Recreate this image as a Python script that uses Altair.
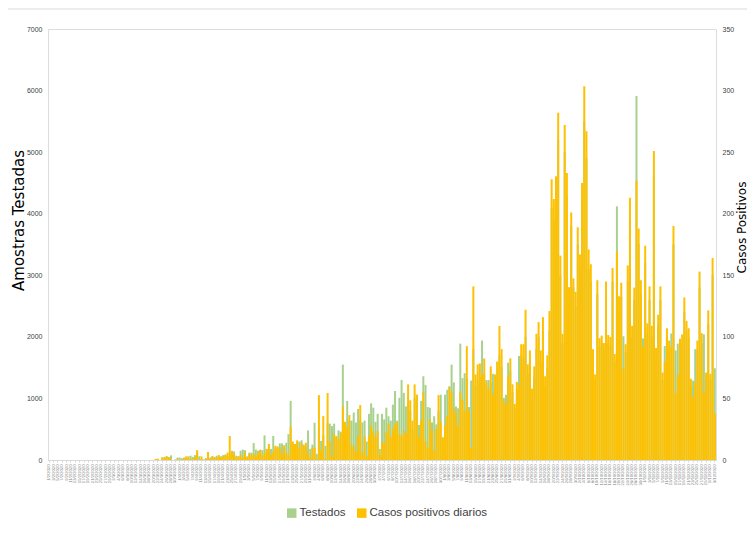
import altair as alt
import pandas as pd

# ---- data ----
t_a = [0, 0, 0, 0, 0, 0, 0, 0, 0, 0, 0, 0, 0, 0, 0, 0, 0, 0, 0, 0, 0, 0, 0,
       0, 0, 0, 0, 0, 0, 0, 0, 0, 0, 0, 0, 0, 0, 0, 0, 0, 0, 0, 0, 0, 0, 0]
c_a = [0, 0, 0, 0, 0, 0, 0, 0, 0, 0, 0, 0, 0, 0, 0, 0, 0, 0, 0, 0, 0, 0, 0,
       0, 0, 0, 0, 0, 0, 0, 0, 0, 0, 0, 0, 0, 0, 0, 0, 0, 0, 0, 0, 0, 0, 0]

t_b = [0, 0, 0, 10, 10, 0, 40, 50, 60, 50, 75, 0, 10, 40, 40, 30, 30, 40, 60, 70,
       50, 80, 120, 60, 20, 10, 30, 80, 40, 60, 50, 70, 50, 60, 80, 90, 60, 120, 150, 140,
       70, 60, 150, 170, 160, 60, 120, 120, 275, 170, 150, 170, 160, 400, 180, 150, 180, 390, 200, 190,
       270, 270, 200, 280, 420, 960, 250, 210, 280, 300]
c_b = [0, 0, 0, 1, 1, 0, 2, 2, 3, 2, 1, 0, 0, 1, 0, 0, 2, 3, 2, 1,
       1, 2, 8, 0, 3, 0, 1, 6.5, 1, 3, 2, 2, 4, 2, 3, 4, 6, 19.5, 7, 5,
       2, 3, 4, 2, 6, 2, 5, 4, 5, 3, 6, 8, 4, 6, 9, 13, 4, 7, 11.5, 11,
       10, 5, 12, 6, 4, 27, 15, 13, 16, 10]

t_c = [320, 250, 200, 480, 180, 250, 605, 100, 500, 310, 400, 230, 600, 590, 550, 590, 370, 480, 460, 1550,
       490, 960, 640, 640, 770, 610, 830, 640, 610, 640, 300, 750, 920, 850, 620, 750, 180, 750, 660, 850,
       710, 640, 900, 1120, 640, 1010, 1300, 1090, 870, 900, 800, 500, 1000, 1060, 570, 960, 1360, 1220, 860, 850,
       610, 710, 580, 800, 1060, 300, 1060, 1140, 1200, 1550, 1260, 870, 840, 1890, 1330, 1410, 1330, 860, 1290]
c_c = [14, 11.4, 14, 6, 2, 10, 10, 1, 52.7, 8, 35.7, 1, 54.4, 15, 3, 21, 19.5, 17, 22, 43.6,
       31, 27, 36.5, 12, 11, 6, 19, 44.6, 6, 19, 3, 20, 28, 23.5, 19, 23.5, 4, 14, 14, 22.6,
       29.5, 19, 25, 29, 30.6, 21, 19.5, 23.5, 21.4, 61.4, 48.5, 32, 61.4, 53, 18.5, 32, 55, 15.6, 10, 33,
       24, 7.3, 25.5, 52.7, 31, 18.5, 27.7, 35.7, 59, 55, 42, 38, 27.7, 55, 49, 40, 92.5, 40, 10]

t_d = [1800, 1200, 1300, 1350, 1940, 1400, 1300, 1300, 1250, 1400, 1150, 1590, 1700, 1500, 1010, 1060, 1580,
       1450, 1100, 850, 1150, 1690, 1700, 1650, 2000, 1400, 1600, 1000, 1350, 1800, 2000, 1600, 2100, 1200,
       1500, 2100, 4100, 3900, 4300, 5200, 3000, 1900, 5000, 4300, 2600, 3800, 2800, 2500, 3500, 3100, 4200]
c_d = [141, 69.5, 77.7, 78.4, 69.5, 82.5, 63, 58, 76, 53, 69.5, 80, 108.8, 90, 48, 45, 68,
       82.6, 61.5, 45.6, 63.4, 60.7, 94, 94, 122, 77.7, 89, 58, 76, 102.5, 112, 89, 116, 68,
       85, 121, 228, 212, 230.5, 282, 166, 102.5, 272, 233, 140.4, 201, 147.5, 136.6, 189, 167, 225]

t_e = [5500, 4900, 3100, 2900, 1700, 1300, 2700, 1850, 1900, 1800, 2700, 1900, 1850, 2900, 1600, 4120,
       2400, 2650, 2010, 1750, 2900, 3900, 2000, 2600, 5910, 3500, 2700, 1975, 3200, 2050, 2600, 2000,
       4600, 1700, 2200, 2600, 1300, 1850, 2000, 1800, 2055, 3500, 1780, 1890, 1850, 1900, 2400, 2100,
       2000, 1200, 1290, 1800, 1800, 2800, 1900, 2040, 1300, 2200, 1300, 3000, 1490]
c_e = [303.6, 267, 171, 159, 90, 69.5, 146, 99, 101, 95, 145, 101.5, 100, 156, 86, 169,
       133, 144, 74, 94, 158, 213, 109, 140, 227, 188, 146, 92, 174, 111, 141, 109,
       251, 91, 118, 141, 71, 80, 107, 97, 92, 190, 54.6, 69, 98.5, 102, 132, 113,
       107, 66, 51, 63, 97, 153, 103, 55, 71, 121.5, 70, 164, 38]

testados = t_a + t_b + t_c + t_d + t_e
casos = c_a + c_b + c_c + c_d + c_e

dias = pd.date_range("2020-02-01", periods=len(testados))
labels = [f"{d.day}/{d.month}/{d.year}" for d in dias]

left_ticks = [0, 1000, 2000, 3000, 4000, 5000, 6000, 7000]
right_ticks = [0, 50, 100, 150, 200, 250, 300, 350]
series_names = ["Testados", "Casos positivos diarios"]
series_colors = ["#a9d18e", "#ffc000"]

df = pd.DataFrame({"dia": labels, "Testados": testados, "Casos": casos})

NARROW = "Liberation Sans Narrow, Liberation Sans, sans-serif"
TITLEF = "DejaVu Sans, sans-serif"

xenc = alt.X(
    "dia:N", sort=None, title=None,
    scale=alt.Scale(paddingInner=0.08, paddingOuter=0.1),
    axis=alt.Axis(values=labels[::2], labelAngle=-90, labelFontSize=4.2, labelColor="#7f7f7f",
                  labelFont=NARROW, labelPadding=2, labelOverlap=False, labelBound=False,
                  tickSize=2, tickColor="#d9d9d9", domainColor="#d9d9d9", domainWidth=1),
)

color_scale = alt.Scale(domain=series_names, range=series_colors)

bars_t = alt.Chart(df).transform_calculate(serie="'Testados'").mark_bar().encode(
    x=xenc,
    y=alt.Y("Testados:Q", scale=alt.Scale(domain=[0, 7000], nice=False),
            axis=alt.Axis(values=left_ticks, format="d", title="Amostras Testadas", grid=False,
                          domain=False, ticks=False, labelPadding=6, labelFontSize=7,
                          labelFont=NARROW, labelColor="#404040", titleFont=TITLEF,
                          titleFontSize=15, titleFontWeight="normal", titleColor="#000000",
                          titleAngle=270, titleX=-30, titleY=191, titleBaseline="middle",
                          titleAlign="center")),
    color=alt.Color("serie:N", scale=color_scale,
                    legend=alt.Legend(title=None, orient="none", legendX=238, legendY=478,
                                      direction="horizontal", symbolType="square",
                                      symbolSize=90, symbolStrokeWidth=0,
                                      labelFont=NARROW, labelFontSize=11.5,
                                      labelColor="#404040", columnPadding=10, labelOffset=2)),
)

bars_c = alt.Chart(df).transform_calculate(serie="'Casos positivos diarios'").mark_bar().encode(
    x=xenc,
    y=alt.Y("Casos:Q", scale=alt.Scale(domain=[0, 350], nice=False),
            axis=alt.Axis(orient="right", values=right_ticks, format="d", title="Casos Positivos",
                          grid=False, domain=False, ticks=False, labelPadding=6, labelFontSize=7,
                          labelFont=NARROW, labelColor="#404040", titleFont=TITLEF,
                          titleFontSize=12, titleFontWeight="normal", titleColor="#000000",
                          titleAngle=270, titleX=25, titleY=198, titleBaseline="middle",
                          titleAlign="center")),
    color=alt.Color("serie:N", scale=color_scale),
)

top_line = alt.Chart(pd.DataFrame({"k": [0]})).mark_rule(color="#d9d9d9", strokeWidth=1).encode(
    x=alt.value(-40), x2=alt.value(699), y=alt.value(-20)
)

chart = alt.layer(bars_t, bars_c, top_line).resolve_scale(y="independent").properties(
    width=668, height=431,
    padding={"left": 40, "top": 21, "right": 31, "bottom": 62},
    autosize=alt.AutoSizeParams(type="none"),
).configure_view(stroke=None).configure(background="white")

chart.save("out.html", embed_options={"renderer": "svg", "actions": False})
